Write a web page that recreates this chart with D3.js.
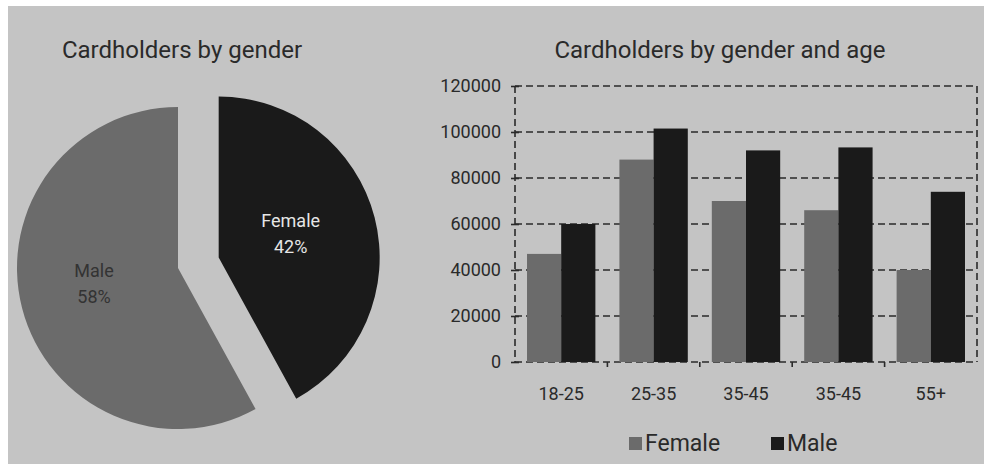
<!DOCTYPE html>
<html>
<head>
<meta charset="utf-8">
<script src="https://cdn.jsdelivr.net/npm/d3@7"></script>
<style>
  body { margin: 0; background: #fff; }
  text { font-family: Roboto, "DejaVu Sans", sans-serif; }
</style>
</head>
<body>
<script>
const pieNames = ['Female', 'Male'];
const pieValues = [42, 58];
const ageGroups = ['18-25', '25-35', '35-45', '35-45 ', '55+'];
const ageLabels = ['18-25', '25-35', '35-45', '35-45', '55+'];
const female = [47000, 88000, 70000, 66000, 40000];
const male = [60000, 101500, 92000, 93300, 74000];
const yTicks = [0, 20000, 40000, 60000, 80000, 100000, 120000];

const W = 984, H = 464;
const grey = '#6b6b6b', black = '#1a1a1a', bg = '#c4c4c4', ink = '#2a2a2a';

const svg = d3.select('body').append('svg')
  .attr('width', W).attr('height', H);

svg.append('rect')
  .attr('x', 8).attr('y', 6)
  .attr('width', W - 8).attr('height', H - 6)
  .attr('fill', bg);

// titles
svg.append('text').attr('x', 182).attr('y', 58)
  .attr('text-anchor', 'middle').attr('font-size', 24).attr('fill', ink)
  .text('Cardholders by gender');
svg.append('text').attr('x', 720).attr('y', 58)
  .attr('text-anchor', 'middle').attr('font-size', 24).attr('fill', ink)
  .text('Cardholders by gender and age');

// ---- pie ----
const r = 161;
const cx = 178, cy = 268;
const explode = [42, 0];
const pieColors = [black, grey];
const labelColors = ['#e6e6e6', '#333'];

const arcs = d3.pie().sort(null)(pieValues);
const arc = d3.arc().innerRadius(0).outerRadius(r);

const slices = svg.append('g').selectAll('g')
  .data(arcs)
  .enter()
  .append('g')
  .attr('transform', (d, i) => {
    const a = (d.startAngle + d.endAngle) / 2;
    return `translate(${cx + Math.sin(a) * explode[i]},${cy - Math.cos(a) * explode[i]})`;
  });

slices.append('path')
  .attr('d', arc)
  .attr('fill', (d, i) => pieColors[i]);

slices.each(function (d, i) {
  const c = arc.centroid(d);
  const g = d3.select(this);
  g.append('text').attr('x', c[0] - 6).attr('y', c[1] - 11)
    .attr('text-anchor', 'middle').attr('font-size', 18).attr('fill', labelColors[i])
    .text(pieNames[i]);
  g.append('text').attr('x', c[0] - 6).attr('y', c[1] + 15)
    .attr('text-anchor', 'middle').attr('font-size', 18).attr('fill', labelColors[i])
    .text(pieValues[i] + '%');
});

// ---- bars ----
const pLeft = 515, pRight = 977, pTop = 86, pBottom = 362;

const x = d3.scaleBand()
  .domain(ageGroups)
  .range([pLeft, pRight])
  .paddingInner(0.26)
  .paddingOuter(0.13);

const x1 = d3.scaleBand()
  .domain(['female', 'male'])
  .range([0, x.bandwidth()]);

const y = d3.scaleLinear()
  .domain([0, 120000])
  .range([pBottom, pTop]);

// dashed grid
svg.append('g').selectAll('line')
  .data(yTicks)
  .enter()
  .append('line')
  .attr('x1', pLeft).attr('x2', pRight)
  .attr('y1', d => y(d)).attr('y2', d => y(d))
  .attr('stroke', ink).attr('stroke-width', 1.6)
  .attr('stroke-dasharray', '7,4');

svg.append('line')
  .attr('x1', pRight).attr('x2', pRight).attr('y1', pTop).attr('y2', pBottom)
  .attr('stroke', ink).attr('stroke-width', 1.6).attr('stroke-dasharray', '7,4');

const groups = svg.append('g').selectAll('g')
  .data(ageGroups)
  .enter()
  .append('g')
  .attr('transform', d => `translate(${x(d)},0)`);

groups.append('rect')
  .attr('x', x1('female'))
  .attr('y', (d, i) => y(female[i]))
  .attr('width', x1.bandwidth())
  .attr('height', (d, i) => pBottom - y(female[i]))
  .attr('fill', grey);

groups.append('rect')
  .attr('x', x1('male'))
  .attr('y', (d, i) => y(male[i]))
  .attr('width', x1.bandwidth())
  .attr('height', (d, i) => pBottom - y(male[i]))
  .attr('fill', black);

// y axis
const yAxis = svg.append('g')
  .attr('transform', `translate(${pLeft},0)`)
  .call(d3.axisLeft(y).tickValues(yTicks).tickSize(4).tickPadding(10).tickFormat(d3.format('d')));
yAxis.select('.domain').remove();
yAxis.selectAll('.tick line').attr('x2', 4).attr('x1', -4).attr('stroke', ink).attr('stroke-width', 1.6);
yAxis.selectAll('.tick text').attr('font-size', 18).attr('fill', ink)
  .style('font-family', 'Roboto, sans-serif');
yAxis.append('line')
  .attr('x1', 0).attr('x2', 0).attr('y1', pTop).attr('y2', pBottom)
  .attr('stroke', ink).attr('stroke-width', 1.6).attr('stroke-dasharray', '7,4');

// x axis
const xAxis = svg.append('g')
  .attr('transform', `translate(0,${pBottom})`)
  .call(d3.axisBottom(x).tickSize(0).tickPadding(25).tickFormat((d, i) => ageLabels[i]));
xAxis.select('.domain').remove();
xAxis.selectAll('.tick text').attr('font-size', 18).attr('fill', ink)
  .style('font-family', 'Roboto, sans-serif');
xAxis.selectAll('.sep')
  .data(ageGroups.slice(1))
  .enter()
  .append('line')
  .attr('x1', d => x(d) - x.step() * x.paddingInner() / 2)
  .attr('x2', d => x(d) - x.step() * x.paddingInner() / 2)
  .attr('y1', 0).attr('y2', 5)
  .attr('stroke', ink).attr('stroke-width', 1.6);

// legend
const legend = [['Female', grey, 629], ['Male', black, 771]];
legend.forEach(([name, col, lx]) => {
  svg.append('rect').attr('x', lx).attr('y', 437).attr('width', 13).attr('height', 13).attr('fill', col);
  svg.append('text').attr('x', lx + 16).attr('y', 451)
    .attr('font-size', 23).attr('fill', ink).text(name);
});
</script>
</body>
</html>
